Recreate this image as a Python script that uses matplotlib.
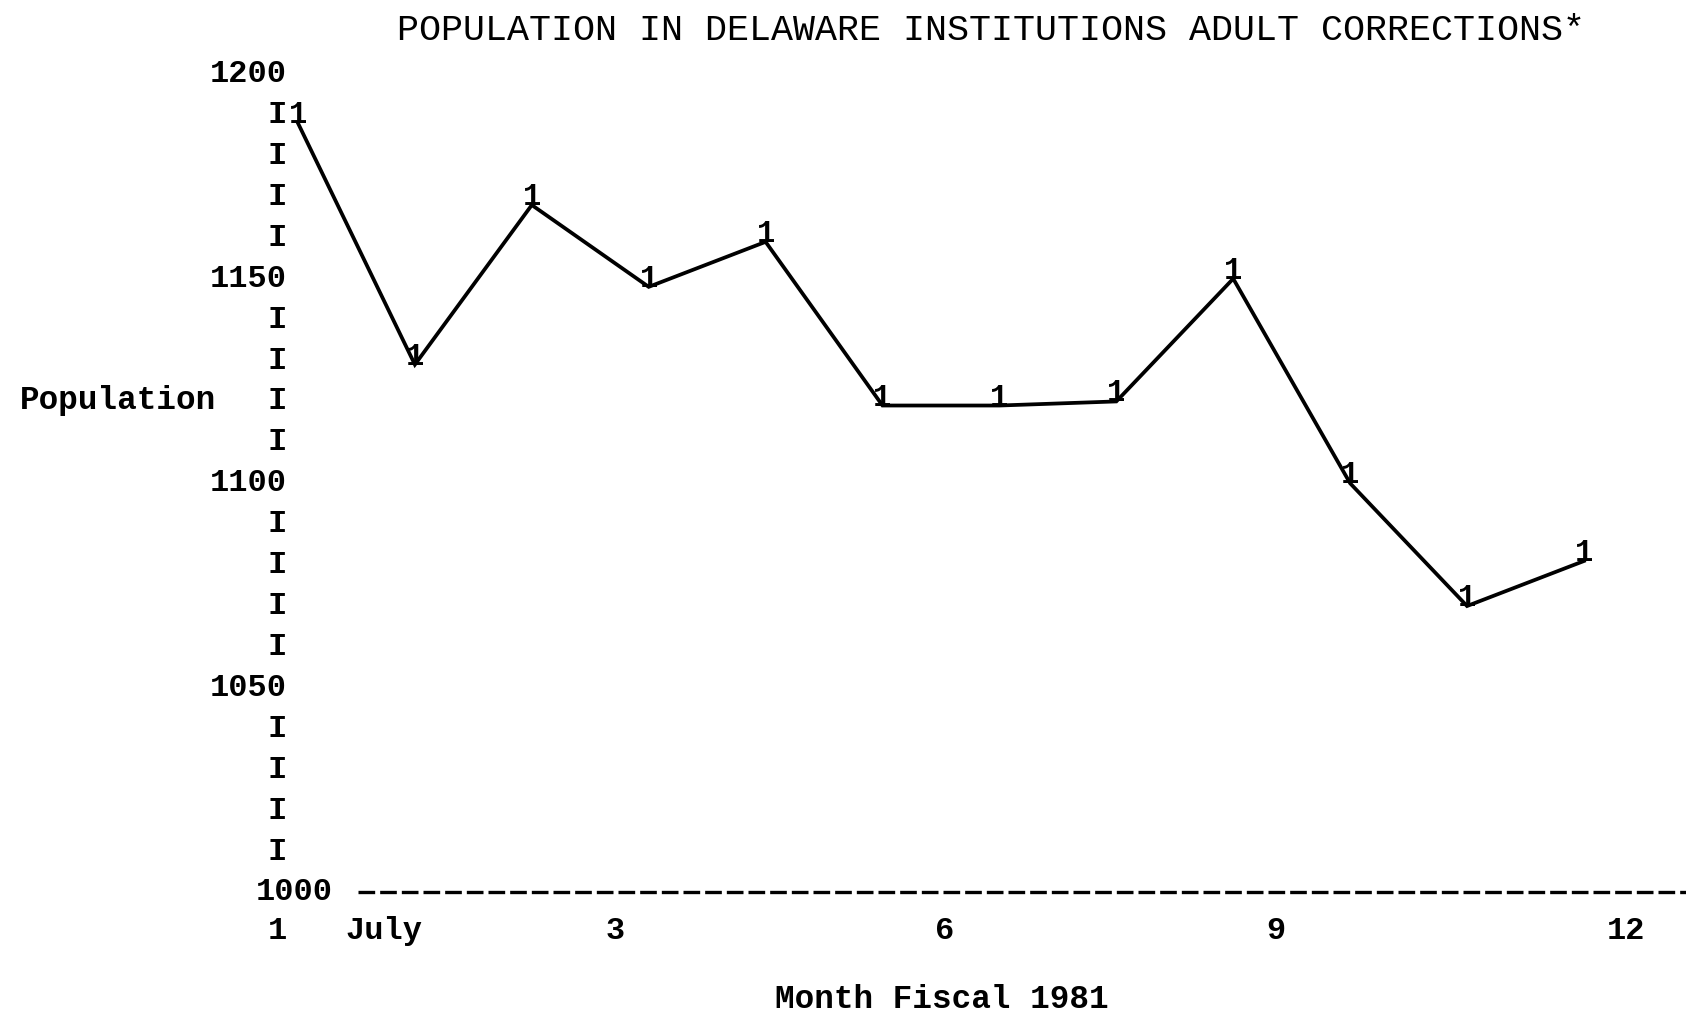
import matplotlib
matplotlib.use("Agg")
import matplotlib.pyplot as plt

# monthly population, fiscal 1981 (month index 1..12)
months = [1, 2, 3, 4, 5, 6, 7, 8, 9, 10, 11, 12]
population = [1188, 1129, 1168, 1148, 1159, 1119, 1119, 1120, 1150, 1100, 1070, 1081]

# y axis typed scale: numbers every 50, "I" marks every 10
y_ticks = list(range(1000, 1201, 10))
y_labels = [str(v) if v % 50 == 0 else "I" for v in y_ticks]

# x axis typed labels (positions as they were typed under the axis)
x_tick_pos = [0.906, 1.736, 3.712, 6.535, 9.366, 12.36]
x_tick_labels = ["1", "July", "3", "6", "9", "12"]

title = "POPULATION IN DELAWARE INSTITUTIONS ADULT CORRECTIONS*"
mono = "Liberation Mono"

fig = plt.figure(figsize=(16.86, 10.23), dpi=100)
ax = fig.add_axes([0, 0, 1, 1])
ax.set_xlim(-1.549, 12.873)
ax.set_ylim(968.1, 1218.1)
ax.axis("off")

# data line with "1" plotting symbols
ax.plot(months, population, color="black", lw=2.7, solid_joinstyle="miter")
for m, v in zip(months, population):
    ax.text(m, v, "1", ha="center", va="baseline", fontsize=22,
            family=mono, fontweight="bold")

# typed y axis
for v, lab in zip(y_ticks, y_labels):
    xpos = 1.299 if v == 1000 else 0.906
    ax.text(xpos, v, lab, ha="right", va="center", fontsize=23, family=mono, fontweight="bold")

# dashed x axis at 1000
ax.plot([1.513, 12.873], [1000, 1000], color="black", lw=2.4, linestyle=(0, (5, 1.5)))

# typed x labels
for xp, lab in zip(x_tick_pos, x_tick_labels):
    ha = "right" if lab == "1" else "center"
    ax.text(xp, 990.5, lab, ha=ha, va="center", fontsize=23, family=mono, fontweight="bold")

fig.text(991 / 1686, 1 - 30 / 1023, title, ha="center", va="center", fontsize=26.4, family=mono)
fig.text(118 / 1686, 1 - 401 / 1023, "Population", ha="center", va="center",
         fontsize=23.5, family=mono, fontweight="bold")
fig.text(942 / 1686, 1 - 1000 / 1023, "Month Fiscal 1981", ha="center", va="center",
         fontsize=23.5, family=mono, fontweight="bold")

fig.savefig("out.png", dpi=100, facecolor="white")
